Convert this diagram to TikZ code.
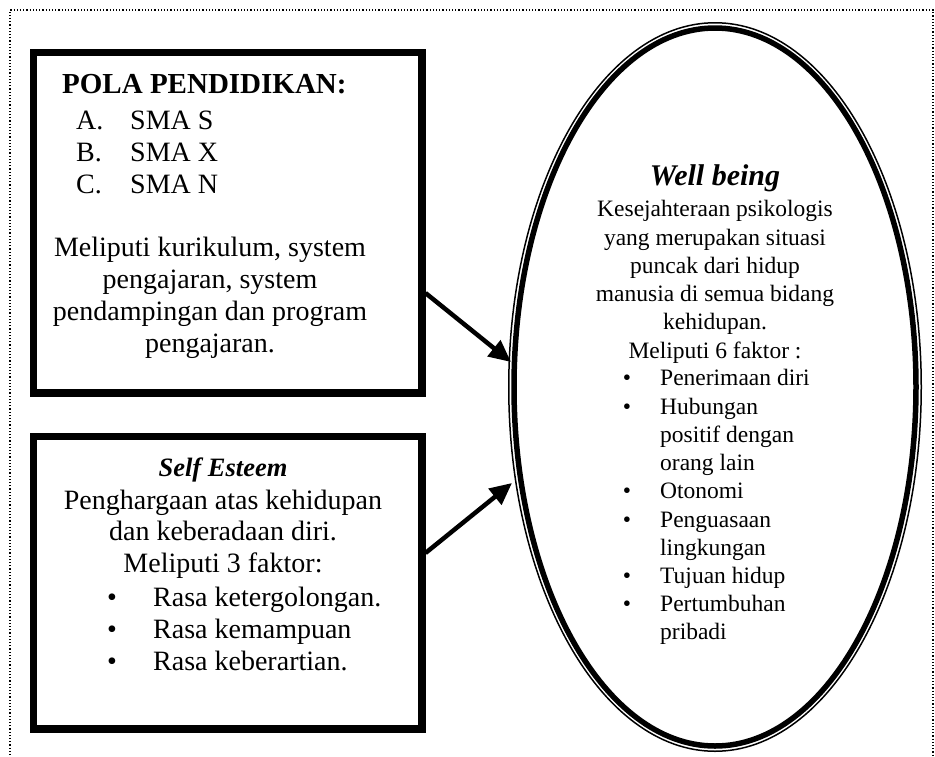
\documentclass[tikz,border=0pt]{standalone}
\usepackage{fontspec}
\setmainfont{Liberation Serif}
\usetikzlibrary{arrows.meta,shapes.geometric}
\begin{document}
\begin{tikzpicture}[x=1pt,y=-1pt,
  thickframe/.style={draw=black,line width=7pt},
  thinframe/.style={draw=black,line width=1.5pt},
  bigtxt/.style={inner sep=0pt,font=\fontsize{28}{32}\selectfont},
  smalltxt/.style={inner sep=0pt,font=\fontsize{23.5}{28}\selectfont},
  arrowline/.style={line width=4.5pt,-{Triangle[length=22pt,width=20pt]}},
  outerborder/.style={draw=black,line width=1.2pt,dotted}]
\useasboundingbox (0,0) rectangle (935,756);
% outer dotted frame
\draw[outerborder] (10,800) -- (10,10) -- (933,10) -- (933,800);
% box 1
\node[thickframe,rectangle,minimum width=389pt,minimum height=341pt,anchor=north west] (box1) at (29.5,48.5) {};
\draw[thinframe] ([shift={(6.5pt,-6.5pt)}]box1.north west) rectangle ([shift={(-6.5pt,6.5pt)}]box1.south east);
% box 2
\node[thickframe,rectangle,minimum width=389pt,minimum height=293pt,anchor=north west] (box2) at (29.5,432.5) {};
\draw[thinframe] ([shift={(6.5pt,-6.5pt)}]box2.north west) rectangle ([shift={(-6.5pt,6.5pt)}]box2.south east);
% ellipse
\node[ellipse,draw=none,minimum width=414pt,minimum height=730pt,inner sep=0pt] (well) at (715,387) {};
\draw[draw=black,line width=5.5pt] (well.center) ellipse [x radius=201pt,y radius=359pt];
\draw[thinframe] (well.center) ellipse [x radius=206.25pt,y radius=364.25pt];
% box 1 text
\node[bigtxt,anchor=base west,font=\fontsize{29}{32}\selectfont\bfseries] (t1) at (62,93) {POLA PENDIDIKAN:};
\node[bigtxt,anchor=base west] (la) at (76,129) {A.};
\node[bigtxt,anchor=base west] (sa) at (130,129) {SMA S};
\node[bigtxt,anchor=base west] (lb) at (76,161) {B.};
\node[bigtxt,anchor=base west] (sb) at (130,161) {SMA X};
\node[bigtxt,anchor=base west] (lc) at (76,193) {C.};
\node[bigtxt,anchor=base west] (sc) at (130,193) {SMA N};
\node[bigtxt,anchor=base] (m1) at (210,256) {Meliputi kurikulum, system};
\node[bigtxt,anchor=base] (m2) at (210,288) {pengajaran, system};
\node[bigtxt,anchor=base] (m3) at (210,320) {pendampingan dan program};
\node[bigtxt,anchor=base] (m4) at (210,352) {pengajaran.};
% box 2 text
\node[bigtxt,anchor=base,font=\fontsize{26.5}{32}\selectfont\bfseries\itshape] (s0) at (223,476) {Self Esteem};
\node[bigtxt,anchor=base] (s1) at (223,509) {Penghargaan atas kehidupan};
\node[bigtxt,anchor=base] (s2) at (223,540) {dan keberadaan diri.};
\node[bigtxt,anchor=base] (s3) at (223,572) {Meliputi 3 faktor:};
\foreach \y/\t [count=\i] in {606/Rasa ketergolongan.,638/Rasa kemampuan,670/Rasa keberartian.}{
  \node[bigtxt,anchor=base] (sbul\i) at (112,\y) {\textbullet};
  \node[bigtxt,anchor=base west] (sit\i) at (153,\y) {\t};
}
% ellipse text
\node[smalltxt,anchor=base,font=\fontsize{30}{32}\selectfont\bfseries\itshape] (w0) at (715,185) {Well being};
\node[smalltxt,anchor=base] (w1) at (715,216) {Kesejahteraan psikologis};
\node[smalltxt,anchor=base] (w2) at (715,245) {yang merupakan situasi};
\node[smalltxt,anchor=base] (w3) at (715,273) {puncak dari hidup};
\node[smalltxt,anchor=base] (w4) at (715,301) {manusia di semua bidang};
\node[smalltxt,anchor=base] (w5) at (715,329) {kehidupan.};
\node[smalltxt,anchor=base] (w6) at (715,358) {Meliputi 6 faktor :};
\foreach \y/\t [count=\i] in {385/Penerimaan diri,414/Hubungan,442/positif dengan,470/orang lain,498/Otonomi,527/Penguasaan,555/lingkungan,583/Tujuan hidup,611/Pertumbuhan,639/pribadi}{
  \node[smalltxt,anchor=base west] (wit\i) at (660,\y) {\t};
}
\foreach \y [count=\i] in {385,414,498,527,583,611}{
  \node[smalltxt,anchor=base] (wbul\i) at (627,\y) {\textbullet};
}
% arrows
\coordinate (a1s) at (box1.east |- 0,293);
\coordinate (a1e) at (511,362);
\coordinate (a2s) at (box2.east |- 0,553);
\coordinate (a2e) at (512,483);
\draw[arrowline] (a1s) -- (a1e);
\draw[arrowline] (a2s) -- (a2e);
\end{tikzpicture}
\end{document}
